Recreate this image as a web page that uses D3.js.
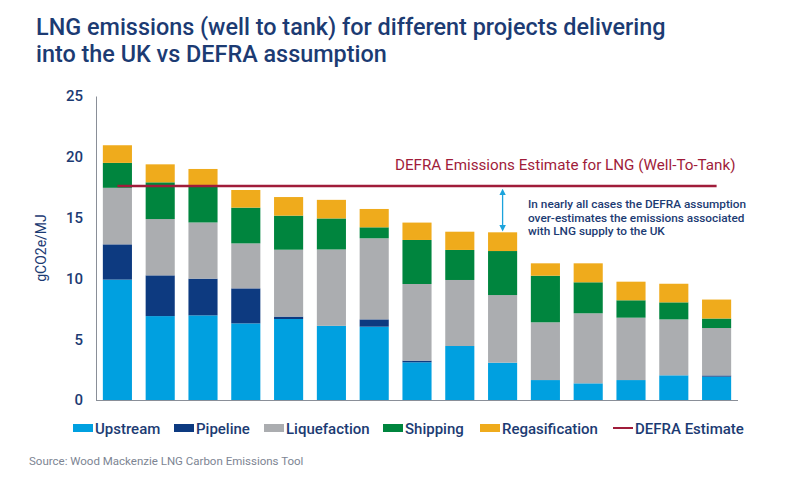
<!DOCTYPE html>
<html>
<head>
<meta charset="utf-8">
<script src="https://cdn.jsdelivr.net/npm/d3@7"></script>
<style>
  body { margin: 0; background: #fff; font-family: Roboto, "Noto Sans", sans-serif; }
  svg { display: block; }
</style>
</head>
<body>
<div id="chart-area"></div>
<script>
// data (gCO2e/MJ)
const projects = ['P1','P2','P3','P4','P5','P6','P7','P8','P9','P10','P11','P12','P13','P14','P15']
const upstream     = [9.9, 6.9, 6.96, 6.3, 6.66, 6.1, 6.03, 3.1, 4.44, 3.07, 1.64, 1.37, 1.64, 2.03, 1.92]
const pipeline     = [2.9, 3.35, 3.02, 2.88, 0.2, 0, 0.6, 0.14, 0, 0, 0, 0, 0, 0, 0.1]
const liquefaction = [4.65, 4.63, 4.62, 3.7, 5.5, 6.28, 6.67, 6.3, 5.43, 5.56, 4.75, 5.76, 5.13, 4.6, 3.9]
const shipping     = [2.05, 3.02, 2.95, 2.94, 2.8, 2.55, 0.9, 3.62, 2.47, 3.62, 3.83, 2.55, 1.43, 1.4, 0.78]
const regas        = [1.45, 1.48, 1.45, 1.45, 1.53, 1.53, 1.51, 1.43, 1.5, 1.54, 1.02, 1.56, 1.53, 1.53, 1.56]
const defraValue = 17.6
const yTicks = [0, 5, 10, 15, 20, 25]

const series = ['Upstream', 'Pipeline', 'Liquefaction', 'Shipping', 'Regasification']
const seriesValues = [upstream, pipeline, liquefaction, shipping, regas]
const colors = ['#00a0e0', '#0d3a80', '#abadb0', '#00853e', '#efab1c']
const navy = '#1c3b73'
const defraColor = '#a01c3a'

const W = 800, H = 480

let svg = d3.select('#chart-area')
  .append('svg')
  .attr('width', W)
  .attr('height', H)

// title
let title = svg.append('text')
  .attr('fill', navy)
  .attr('font-size', '23.4px')
  .attr('font-weight', 500)
title.append('tspan').attr('x', 36).attr('y', 35)
  .text('LNG emissions (well to tank) for different projects delivering')
title.append('tspan').attr('x', 36).attr('y', 62)
  .text('into the UK vs DEFRA assumption')

// scales
let x = d3.scaleBand()
  .domain(projects)
  .range([96, 738])
  .paddingInner(0.32)
  .paddingOuter(0.16)

let y = d3.scaleLinear()
  .domain([0, 25])
  .range([400, 96])

// stack
let table = projects.map((p, i) => {
  let row = { project: p }
  series.forEach((s, j) => { row[s] = seriesValues[j][i] })
  return row
})
let stacked = d3.stack().keys(series)(table)

let layers = svg.append('g')
  .selectAll('g')
  .data(stacked)
  .enter()
  .append('g')
  .attr('fill', (d, i) => colors[i])

layers.selectAll('rect')
  .data(d => d)
  .enter()
  .append('rect')
  .attr('x', d => x(d.data.project))
  .attr('width', x.bandwidth())
  .attr('y', d => y(d[1]))
  .attr('height', d => y(d[0]) - y(d[1]))

// axes
let yAxisCall = d3.axisLeft(y)
  .tickValues(yTicks)
  .tickSize(0)
  .tickPadding(13)
let yAxisGroup = svg.append('g')
  .attr('transform', 'translate(96,0)')
  .call(yAxisCall)
yAxisGroup.select('.domain').attr('stroke', '#8a8f98')
yAxisGroup.selectAll('text')
  .attr('fill', navy)
  .attr('font-size', '15px')
  .attr('font-weight', 500)
  .attr('font-family', 'Roboto, sans-serif')

svg.append('line')
  .attr('x1', 96)
  .attr('x2', 738)
  .attr('y1', y(0) + 0.5)
  .attr('y2', y(0) + 0.5)
  .attr('stroke', '#8a8f98')

svg.append('text')
  .attr('transform', 'translate(46,' + y(12.5) + ') rotate(-90)')
  .attr('text-anchor', 'middle')
  .attr('fill', navy)
  .attr('font-size', '14px')
  .text('gCO2e/MJ')

// DEFRA line
let first = x(projects[0]) + x.bandwidth() / 2
let last = x(projects[projects.length - 1]) + x.bandwidth() / 2
svg.append('line')
  .attr('x1', first)
  .attr('x2', last)
  .attr('y1', y(defraValue))
  .attr('y2', y(defraValue))
  .attr('stroke', defraColor)
  .attr('stroke-width', 2.5)

svg.append('text')
  .attr('x', 395)
  .attr('y', 170)
  .attr('fill', defraColor)
  .attr('font-size', '15.2px')
  .text('DEFRA Emissions Estimate for LNG (Well-To-Tank)')

// double arrow between DEFRA and bar 10
let defs = svg.append('defs')
defs.append('marker')
  .attr('id', 'ah')
  .attr('viewBox', '0 0 10 10')
  .attr('refX', 5).attr('refY', 5)
  .attr('markerWidth', 5).attr('markerHeight', 5)
  .attr('orient', 'auto-start-reverse')
  .append('path')
  .attr('d', 'M0,0 L10,5 L0,10 z')
  .attr('fill', '#1ba3dc')

let top10 = upstream[9] + pipeline[9] + liquefaction[9] + shipping[9] + regas[9]
let ax = x(projects[9]) + x.bandwidth() / 2
svg.append('line')
  .attr('x1', ax).attr('x2', ax)
  .attr('y1', y(defraValue) + 6)
  .attr('y2', y(top10) - 4)
  .attr('stroke', '#1ba3dc')
  .attr('stroke-width', 1.3)
  .attr('marker-start', 'url(#ah)')
  .attr('marker-end', 'url(#ah)')

let note = ['In nearly all cases the DEFRA assumption',
  'over-estimates the emissions associated',
  'with LNG supply to the UK']
svg.append('g')
  .selectAll('text')
  .data(note)
  .enter()
  .append('text')
  .attr('x', 528)
  .attr('y', (d, i) => 208 + i * 13.5)
  .attr('fill', navy)
  .attr('font-size', '11.8px')
  .attr('font-weight', 500)
  .text(d => d)

// legend
let legendX = [73, 174, 264, 383, 480]
let legend = svg.append('g')
series.forEach((s, i) => {
  let row = legend.append('g')
    .attr('transform', 'translate(' + legendX[i] + ', 428)')
  row.append('rect')
    .attr('y', -4)
    .attr('width', 20)
    .attr('height', 8)
    .attr('fill', colors[i])
  row.append('text')
    .attr('x', 22)
    .attr('y', 6)
    .attr('fill', navy)
    .attr('font-size', '15px')
    .attr('font-weight', 500)
    .text(s)
})
let defraRow = legend.append('g')
  .attr('transform', 'translate(613, 428)')
defraRow.append('line')
  .attr('x1', 0).attr('x2', 20)
  .attr('stroke', defraColor)
  .attr('stroke-width', 2)
defraRow.append('text')
  .attr('x', 22)
  .attr('y', 6)
  .attr('fill', navy)
  .attr('font-size', '15px')
  .attr('font-weight', 500)
  .text('DEFRA Estimate')

svg.append('text')
  .attr('x', 29)
  .attr('y', 465)
  .attr('fill', '#7d8593')
  .attr('font-size', '11.5px')
  .text('Source: Wood Mackenzie LNG Carbon Emissions Tool')
</script>
</body>
</html>
